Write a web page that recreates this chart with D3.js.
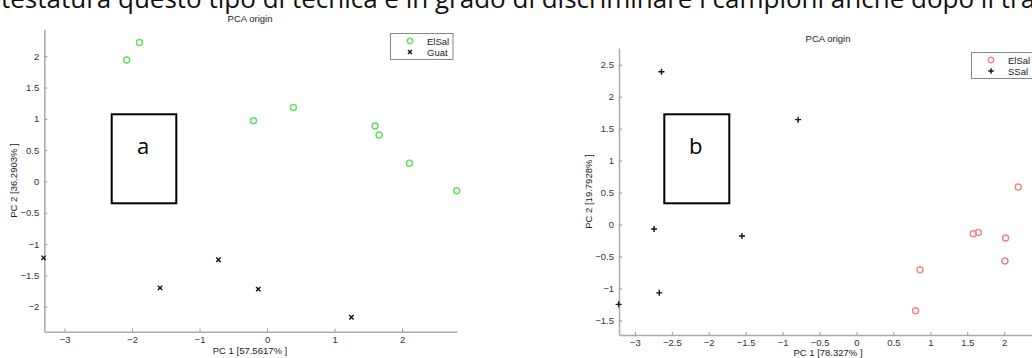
<!DOCTYPE html>
<html>
<head>
<meta charset="utf-8">
<script src="https://cdn.jsdelivr.net/npm/d3@7"></script>
<style>
  body { margin: 0; background: #fff; }
  svg { display: block; }
  .tick text { font-family: "Liberation Sans", Arial, sans-serif; font-size: 9.5px; fill: #333; }
  .lbl { font-family: "Liberation Sans", Arial, sans-serif; font-size: 9.5px; fill: #222; }
</style>
</head>
<body>
<script>
const W = 1032, H = 358;

const headText = 'testatura questo tipo di tecnica è in grado di discriminare i campioni anche dopo il trattamento';

// panel a
const aElSal = [[-1.89, 2.22], [-2.08, 1.94], [-0.20, 0.97], [0.39, 1.18], [1.60, 0.885], [1.66, 0.74], [2.11, 0.29], [2.81, -0.15]];
const aGuat = [[-3.31, -1.22], [-1.585, -1.70], [-0.72, -1.25], [-0.13, -1.72], [1.25, -2.17]];
const aXTicks = [-3, -2, -1, 0, 1, 2];
const aYTicks = [-2, -1.5, -1, -0.5, 0, 0.5, 1, 1.5, 2];

// panel b
const bElSal = [[2.19, 0.585], [1.58, -0.145], [1.65, -0.125], [2.02, -0.21], [2.01, -0.57], [0.86, -0.71], [0.80, -1.35]];
const bSSal = [[-2.64, 2.39], [-0.79, 1.64], [-2.74, -0.07], [-1.55, -0.18], [-2.67, -1.07], [-3.22, -1.25]];
const bXTicks = [-3, -2.5, -2, -1.5, -1, -0.5, 0, 0.5, 1, 1.5, 2];
const bYTicks = [-1.5, -1, -0.5, 0, 0.5, 1, 1.5, 2, 2.5];

const svg = d3.select('body').append('svg').attr('width', W).attr('height', H);

svg.append('text')
    .attr('x', 1).attr('y', 8)
    .attr('font-family', '"Open Sans", sans-serif')
    .attr('font-size', 26)
    .attr('fill', '#111')
    .text(headText);

function xMark(g, s) {
    g.append('path').attr('d', `M${-s},${-s}L${s},${s}M${-s},${s}L${s},${-s}`)
        .attr('stroke', '#111').attr('stroke-width', 1.4).attr('fill', 'none');
}
function plusMark(g, s) {
    g.append('path').attr('d', `M${-s},0L${s},0M0,${-s}L0,${s}`)
        .attr('stroke', '#111').attr('stroke-width', 1.4).attr('fill', 'none');
}
function circleMark(color) {
    return (g, s) => g.append('circle').attr('r', s)
        .attr('fill', 'none').attr('stroke', color).attr('stroke-width', 1.5);
}

function panel(o) {
    const x = d3.scaleLinear().domain(o.xDom).range(o.xRange);
    const y = d3.scaleLinear().domain(o.yDom).range(o.yRange);
    const g = svg.append('g');

    const xa = g.append('g').attr('transform', `translate(0,${o.yRange[0]})`)
        .call(d3.axisBottom(x).tickValues(o.xTicks).tickSizeInner(-3).tickSizeOuter(0).tickPadding(o.xPad).tickFormat(d3.format('')));
    const ya = g.append('g').attr('transform', `translate(${o.xRange[0]},0)`)
        .call(d3.axisLeft(y).tickValues(o.yTicks).tickSizeInner(-3).tickSizeOuter(0).tickPadding(5).tickFormat(d3.format('')));
    [xa, ya].forEach(a => {
        a.select('.domain').attr('stroke', '#aaa').attr('stroke-width', 1.5);
        a.selectAll('.tick line').attr('stroke', '#999');
    });

    const cy = (o.yRange[0] + o.yRange[1]) / 2;
    g.append('text').attr('class', 'lbl').attr('x', o.titleX).attr('y', o.titleY)
        .attr('text-anchor', 'middle').text('PCA origin');
    g.append('text').attr('class', 'lbl').attr('x', o.titleX).attr('y', o.xLabelY)
        .attr('text-anchor', 'middle').text(o.xLabel);
    g.append('text').attr('class', 'lbl')
        .attr('transform', `translate(${o.yLabelX},${cy}) rotate(-90)`)
        .attr('text-anchor', 'middle').text(o.yLabel);

    o.series.forEach(s => {
        g.selectAll(null).data(s.data).enter().append('g')
            .attr('transform', d => `translate(${x(d[0])},${y(d[1])})`)
            .each(function () { s.mark(d3.select(this), s.size); });
    });

    // legend
    const lg = g.append('g').attr('transform', `translate(${o.legend[0]},${o.legend[1]})`);
    lg.append('rect').attr('width', o.legend[2]).attr('height', 26)
        .attr('fill', '#fff').attr('stroke', '#888').attr('stroke-width', 1);
    o.series.forEach((s, i) => {
        const row = lg.append('g').attr('transform', `translate(19.5,${7.5 + i * 11})`);
        s.mark(row.append('g'), s.size * 0.9);
        row.append('text').attr('class', 'lbl').attr('x', 17).attr('y', 3.5).text(s.name);
    });

    // letter box
    g.append('rect').attr('x', o.box[0]).attr('y', o.box[1]).attr('width', o.box[2]).attr('height', o.box[3])
        .attr('fill', '#fff').attr('stroke', '#000').attr('stroke-width', 2);
    g.append('text').attr('x', o.box[0] + o.box[2] / 2 - 1).attr('y', o.box[1] + 40)
        .attr('text-anchor', 'middle').attr('font-family', '"Open Sans", sans-serif')
        .attr('font-size', 22).attr('fill', '#000').text(o.letter);
}

panel({
    xDom: [-3.3, 2.81], xRange: [44.3, 456.7],
    yDom: [-2.4, 2.43], yRange: [331.7, 29.3],
    xTicks: aXTicks, yTicks: aYTicks, xPad: 5,
    titleX: 250, titleY: 22, xLabelY: 354, yLabelX: 17,
    xLabel: 'PC 1 [57.5617% ]', yLabel: 'PC 2 [36.2903% ]',
    series: [
        { name: 'ElSal', data: aElSal, mark: circleMark('#66dd66'), size: 3 },
        { name: 'Guat', data: aGuat, mark: xMark, size: 2.2 }
    ],
    legend: [390.5, 33.5, 62.5],
    box: [111.7, 114.3, 64.6, 89],
    letter: 'a'
});

panel({
    xDom: [-3.215, 2.44], xRange: [619, 1036.7],
    yDom: [-1.73, 2.76], yRange: [335, 48.1],
    xTicks: bXTicks, yTicks: bYTicks, xPad: 4.5,
    titleX: 828, titleY: 42, xLabelY: 356, yLabelX: 592,
    xLabel: 'PC 1 [78.327% ]', yLabel: 'PC 2 [19.7928% ]',
    series: [
        { name: 'ElSal', data: bElSal, mark: circleMark('#e88a8a'), size: 3 },
        { name: 'SSal', data: bSSal, mark: plusMark, size: 3 }
    ],
    legend: [971.5, 52.5, 70],
    box: [664.3, 114.3, 65, 89],
    letter: 'b'
});
</script>
</body>
</html>
